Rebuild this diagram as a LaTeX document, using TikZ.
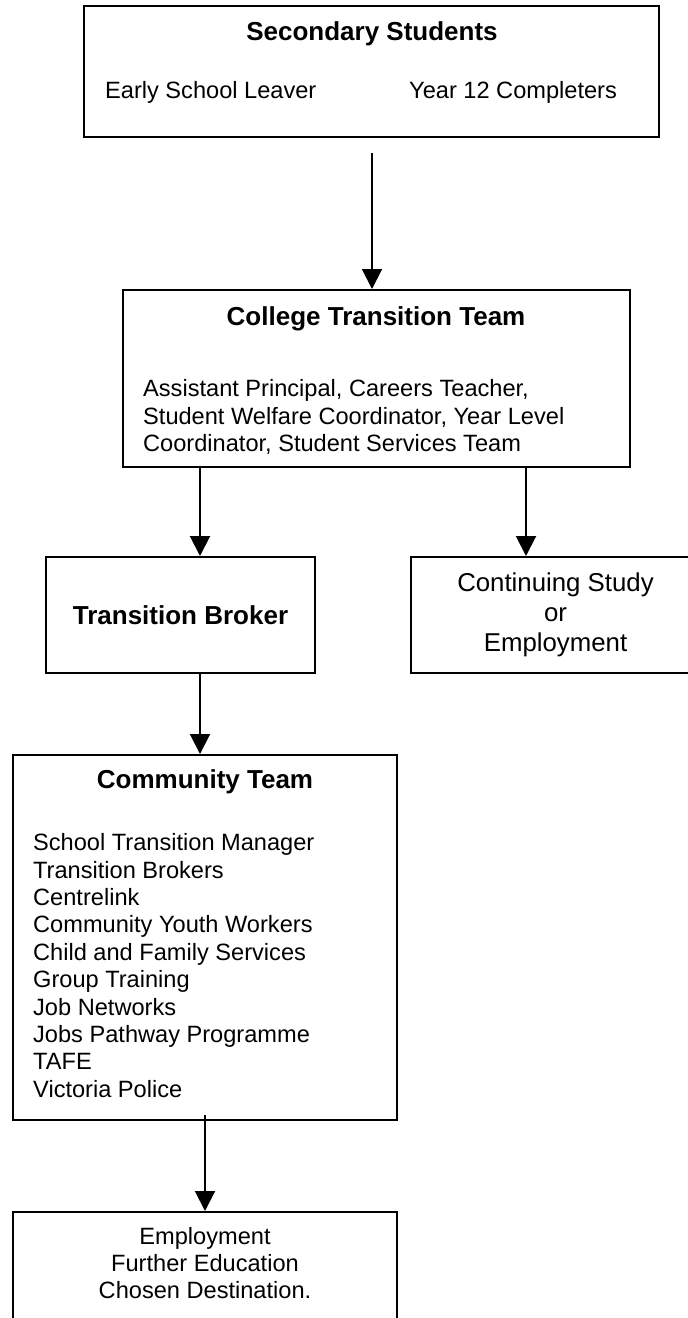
\documentclass[tikz,border=0pt]{standalone}
\usepackage{fontspec}
\setmainfont{Liberation Sans}
\usepackage{tikz}
\usetikzlibrary{arrows.meta,positioning}

\begin{document}
\begin{tikzpicture}[x=1pt, y=-1pt,
    box/.style={rectangle, draw, line width=2pt, inner sep=0pt},
    title/.style={inner sep=0pt, font=\fontsize{26}{30}\selectfont\bfseries},
    txt/.style={inner sep=0pt, align=left, font=\fontsize{23.6}{27.4}\selectfont},
    ctxt/.style={inner sep=0pt, align=center, font=\fontsize{23.6}{27.4}\selectfont},
    arrow/.style={-{Triangle[length=20pt,width=20pt]}, line width=2pt}
]
\useasboundingbox (0,0) rectangle (688,1318);
\clip (0,0) rectangle (688,1318);

% Nodes
\node[box, minimum width=575pt, minimum height=131pt] (students) at (371.5,71.5) {};
\node[title] (studentstitle) at (372,34) {Secondary Students};
\node[txt, anchor=west] (leaver) at (105,92) {Early School Leaver};
\node[txt, anchor=west] (completers) at (409,92) {Year 12 Completers};

\node[box, minimum width=507pt, minimum height=177pt] (college) at (376.5,378.5) {};
\node[title] (collegetitle) at (376,319) {College Transition Team};
\node[txt, anchor=west] (collegestaff) at (143,417) {Assistant Principal, Careers Teacher,\\Student Welfare Coordinator, Year Level\\Coordinator, Student Services Team};

\node[box, title, minimum width=269pt, minimum height=116pt] (broker) at (180.5,615) {Transition Broker};
\node[box, minimum width=289pt, minimum height=116pt, align=center, font=\fontsize{25.8}{30}\selectfont] (continuing) at (555.5,615) {Continuing Study\\or\\Employment};

\node[box, minimum width=384pt, minimum height=365pt] (community) at (205,937.5) {};
\node[title] (communitytitle) at (205,782) {Community Team};
\node[txt, anchor=west] (communitylist) at (33,965.5) {School Transition Manager\\Transition Brokers\\Centrelink\\Community Youth Workers\\Child and Family Services\\Group Training\\Job Networks\\Jobs Pathway Programme\\TAFE\\Victoria Police};

\node[box, anchor=north, minimum width=384pt, minimum height=150pt] (destination) at (205,1211) {};
\node[ctxt] (destinationtext) at (205,1263) {Employment\\Further Education\\Chosen Destination.};

% Arrows
\coordinate (start) at (372,153);
\draw[arrow] (start) -- (start |- college.north);
\draw[arrow] (college.south -| 200,0) -- (broker.north -| 200,0);
\draw[arrow] (college.south -| 526,0) -- (continuing.north -| 526,0);
\draw[arrow] (broker.south -| 200,0) -- (community.north -| 200,0);
\draw[arrow] ([yshift=6pt]community.south) -- (destination.north);
\end{tikzpicture}
\end{document}
